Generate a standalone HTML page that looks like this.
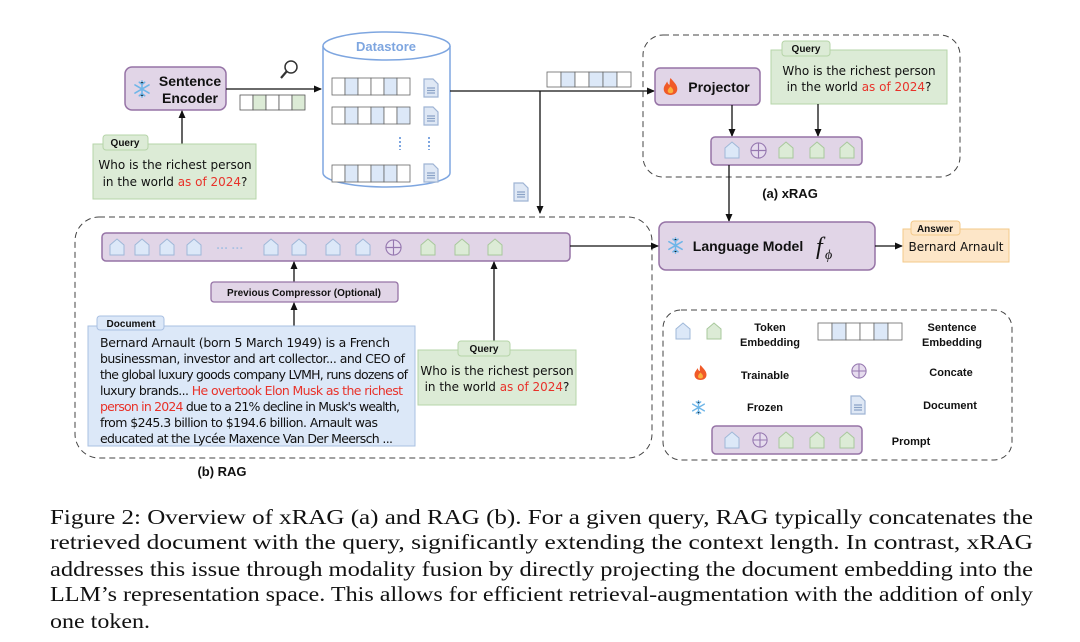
<!DOCTYPE html>
<html><head><meta charset="utf-8"><style>
html,body{margin:0;padding:0;background:#fff;}
svg{display:block;}
.b{font-family:"Liberation Sans",sans-serif;font-weight:bold;fill:#111;}
.c{font-family:"DejaVu Sans","Liberation Sans",sans-serif;fill:#111;}
.r{fill:#e8322a;}
.cap{font-family:"Liberation Serif",serif;font-size:21.5px;fill:#111;}
</style></head><body>
<svg width="1080" height="642" viewBox="0 0 1080 642" xmlns="http://www.w3.org/2000/svg">
<defs>
<marker id="ar" markerWidth="8" markerHeight="8" refX="7" refY="4" orient="auto" markerUnits="userSpaceOnUse"><path d="M0,0.5 L8,4 L0,7.5 z" fill="#111"/></marker>
<symbol id="hb" viewBox="0 0 16 18"><path d="M1,7 L8,1 L15,7 L15,17 L1,17 z" fill="#dce8f8" stroke="#9fb8d8" stroke-width="1"/></symbol>
<symbol id="hg" viewBox="0 0 16 18"><path d="M1,7 L8,1 L15,7 L15,17 L1,17 z" fill="#dcebd6" stroke="#a8c89c" stroke-width="1"/></symbol>
<symbol id="cc" viewBox="0 0 18 18"><circle cx="9" cy="9" r="8" fill="#e6dcee" stroke="#9678b0" stroke-width="1.2"/><path d="M9,1 V17 M1,9 H17" stroke="#9678b0" stroke-width="1.2"/></symbol>
<symbol id="doc" viewBox="0 0 16 20"><path d="M1,1 H10 L15,6 V19 H1 z" fill="#dfe8f5" stroke="#9fb4d4" stroke-width="1.2"/><path d="M4,10 H12 M4,12.5 H12 M4,15 H12" stroke="#8aa2c6" stroke-width="1.2"/></symbol>
<symbol id="sf" viewBox="0 0 20 20"><g stroke="#6fb6e8" stroke-width="1.8" stroke-linecap="round"><path d="M10,1 V19 M2.2,5.5 L17.8,14.5 M2.2,14.5 L17.8,5.5"/><path d="M7,2.5 L10,5 L13,2.5 M7,17.5 L10,15 L13,17.5"/></g></symbol>
<symbol id="fire" viewBox="0 0 20 22"><path d="M10,1 C14,6 18,9 18,14 C18,18.5 14.5,21 10,21 C5.5,21 2,18.5 2,14 C2,10 5,8 6,5 C7,8 8,9 9,9 C9,6 9,3 10,1z" fill="#f05a28"/><path d="M10,11 C12,13 14,15 13,17.5 C12,19.5 8,19.5 7,17.5 C6,15.5 8,13 10,11z" fill="#fbb03b"/></symbol>
</defs>

<rect x="125" y="67" width="101" height="43" rx="7" fill="#e1d5e7" stroke="#9673a6" stroke-width="1.5"/>
<use href="#sf" x="133" y="80" width="18" height="18"/>
<text class="b" x="190" y="86" font-size="14" text-anchor="middle">Sentence</text>
<text class="b" x="190" y="103" font-size="14" text-anchor="middle">Encoder</text>
<line x1="182" y1="144" x2="182" y2="111" stroke="#111" stroke-width="1.3" marker-end="url(#ar)"/>
<rect x="93" y="144" width="163" height="55" fill="#dcebd6" stroke="#b6d4a8"/>
<rect x="103" y="135" width="45" height="15" rx="3" fill="#dcebd6" stroke="#b6d4a8"/>
<text class="b" x="125" y="146" font-size="10" text-anchor="middle">Query</text>
<text class="c" x="175" y="169" font-size="12" text-anchor="middle">Who is the richest person</text>
<text class="c" x="175" y="186" font-size="12" text-anchor="middle">in the world <tspan class="r">as of 2024</tspan>?</text>

<line x1="226" y1="89" x2="321" y2="89" stroke="#111" stroke-width="1.3" marker-end="url(#ar)"/>
<circle cx="291" cy="67" r="6" fill="#fff" stroke="#333" stroke-width="1.5"/><line x1="287" y1="71" x2="281" y2="78" stroke="#333" stroke-width="2.2"/>
<g stroke="#555" stroke-width="0.8">
<rect x="240" y="95" width="13" height="15" fill="#fff"/><rect x="253" y="95" width="13" height="15" fill="#dcebd6"/><rect x="266" y="95" width="13" height="15" fill="#fff"/><rect x="279" y="95" width="13" height="15" fill="#fff"/><rect x="292" y="95" width="13" height="15" fill="#dcebd6"/>
</g>

<path d="M323,46 V173 A63.5,14 0 0 0 450,173 V46" fill="#fff" stroke="#7ea6e0" stroke-width="1.5"/>
<ellipse cx="386.5" cy="46" rx="63.5" ry="14" fill="#fff" stroke="#7ea6e0" stroke-width="1.5"/>
<text class="b" x="386" y="51" font-size="13" text-anchor="middle" style="fill:#7ea6e0">Datastore</text>
<g stroke="#666" stroke-width="0.8">
<g transform="translate(332,78)"><rect width="13" height="17" fill="#fff"/><rect x="13" width="13" height="17" fill="#dce8f8"/><rect x="26" width="13" height="17" fill="#fff"/><rect x="39" width="13" height="17" fill="#fff"/><rect x="52" width="13" height="17" fill="#dce8f8"/><rect x="65" width="13" height="17" fill="#fff"/></g>
<g transform="translate(332,107)"><rect width="13" height="17" fill="#fff"/><rect x="13" width="13" height="17" fill="#dce8f8"/><rect x="26" width="13" height="17" fill="#fff"/><rect x="39" width="13" height="17" fill="#dce8f8"/><rect x="52" width="13" height="17" fill="#fff"/><rect x="65" width="13" height="17" fill="#dce8f8"/></g>
<g transform="translate(332,165)"><rect width="13" height="17" fill="#fff"/><rect x="13" width="13" height="17" fill="#dce8f8"/><rect x="26" width="13" height="17" fill="#fff"/><rect x="39" width="13" height="17" fill="#dce8f8"/><rect x="52" width="13" height="17" fill="#dce8f8"/><rect x="65" width="13" height="17" fill="#fff"/></g>
</g>
<use href="#doc" x="423" y="78" width="16" height="20"/>
<use href="#doc" x="423" y="106" width="16" height="20"/>
<use href="#doc" x="423" y="163" width="16" height="20"/>
<line x1="400" y1="137" x2="400" y2="150" stroke="#7ea6e0" stroke-width="2" stroke-dasharray="2,2"/>
<line x1="429" y1="137" x2="429" y2="150" stroke="#7ea6e0" stroke-width="2" stroke-dasharray="2,2"/>

<line x1="450" y1="91" x2="654" y2="91" stroke="#111" stroke-width="1.3" marker-end="url(#ar)"/>
<line x1="540" y1="91" x2="540" y2="213" stroke="#111" stroke-width="1.3" marker-end="url(#ar)"/>
<use href="#doc" x="513" y="182" width="16" height="20"/>
<g stroke="#666" stroke-width="0.8" transform="translate(547,72)"><rect width="14" height="15" fill="#fff"/><rect x="14" width="14" height="15" fill="#dce8f8"/><rect x="28" width="14" height="15" fill="#fff"/><rect x="42" width="14" height="15" fill="#dce8f8"/><rect x="56" width="14" height="15" fill="#dce8f8"/><rect x="70" width="14" height="15" fill="#fff"/></g>

<rect x="643" y="35" width="317" height="142" rx="20" fill="none" stroke="#444" stroke-width="1" stroke-dasharray="6,4"/>
<rect x="655" y="68" width="105" height="37" rx="5" fill="#e1d5e7" stroke="#9673a6" stroke-width="1.5"/>
<use href="#fire" x="662" y="77" width="17" height="19"/>
<text class="b" x="719" y="92" font-size="14" text-anchor="middle">Projector</text>
<rect x="771" y="50" width="176" height="54" fill="#dcebd6" stroke="#b6d4a8"/>
<rect x="782" y="41" width="48" height="15" rx="3" fill="#dcebd6" stroke="#b6d4a8"/>
<text class="b" x="806" y="52" font-size="10" text-anchor="middle">Query</text>
<text class="c" x="859" y="75" font-size="12" text-anchor="middle">Who is the richest person</text>
<text class="c" x="859" y="91" font-size="12" text-anchor="middle">in the world <tspan class="r">as of 2024</tspan>?</text>
<line x1="732" y1="105" x2="732" y2="136" stroke="#111" stroke-width="1.3" marker-end="url(#ar)"/>
<line x1="818" y1="104" x2="818" y2="136" stroke="#111" stroke-width="1.3" marker-end="url(#ar)"/>
<rect x="711" y="137" width="151" height="28" rx="4" fill="#e1d5e7" stroke="#9673a6" stroke-width="1.5"/>
<use href="#hb" x="724" y="141" width="16" height="18"/><use href="#cc" x="750" y="142" width="17" height="17"/><use href="#hg" x="778" y="141" width="16" height="18"/><use href="#hg" x="809" y="141" width="16" height="18"/><use href="#hg" x="839" y="141" width="16" height="18"/>
<line x1="729" y1="165" x2="729" y2="221" stroke="#111" stroke-width="1.3" marker-end="url(#ar)"/>
<text class="b" x="790" y="198" font-size="13" text-anchor="middle">(a) xRAG</text>

<rect x="659" y="222" width="216" height="48" rx="7" fill="#e1d5e7" stroke="#9673a6" stroke-width="1.5"/>
<use href="#sf" x="667" y="237" width="17" height="17"/>
<text class="b" x="748" y="251" font-size="14" text-anchor="middle">Language Model</text>
<text x="816" y="254" font-family="Liberation Serif,serif" font-style="italic" font-size="24" fill="#111">f</text>
<text x="825" y="259" font-family="Liberation Serif,serif" font-style="italic" font-size="14" fill="#111">ϕ</text>
<line x1="875" y1="246" x2="902" y2="246" stroke="#111" stroke-width="1.3" marker-end="url(#ar)"/>
<rect x="903" y="229" width="106" height="33" fill="#fde6c8" stroke="#f3c98a"/>
<rect x="911" y="221" width="49" height="14" rx="3" fill="#fde6c8" stroke="#f3c98a"/>
<text class="b" x="935" y="232" font-size="10" text-anchor="middle">Answer</text>
<text class="c" x="956" y="251" font-size="12" text-anchor="middle">Bernard Arnault</text>

<rect x="75" y="217" width="577" height="241" rx="24" fill="none" stroke="#444" stroke-width="1" stroke-dasharray="6,4"/>
<rect x="102" y="233" width="468" height="28" rx="4" fill="#e1d5e7" stroke="#9673a6" stroke-width="1.5"/>
<use href="#hb" x="109" y="238" width="16" height="18"/><use href="#hb" x="134" y="238" width="16" height="18"/><use href="#hb" x="159" y="238" width="16" height="18"/><use href="#hb" x="186" y="238" width="16" height="18"/>
<text x="230" y="252" font-size="12" font-family="Liberation Sans,sans-serif" font-weight="bold" fill="#a9c0e2" text-anchor="middle">··· ···</text>
<use href="#hb" x="263" y="238" width="16" height="18"/><use href="#hb" x="291" y="238" width="16" height="18"/><use href="#hb" x="325" y="238" width="16" height="18"/><use href="#hb" x="355" y="238" width="16" height="18"/>
<use href="#cc" x="385" y="239" width="17" height="17"/>
<use href="#hg" x="420" y="238" width="16" height="18"/><use href="#hg" x="454" y="238" width="16" height="18"/><use href="#hg" x="487" y="238" width="16" height="18"/>
<line x1="570" y1="246" x2="658" y2="246" stroke="#111" stroke-width="1.3" marker-end="url(#ar)"/>
<line x1="294" y1="282" x2="294" y2="262" stroke="#111" stroke-width="1.3" marker-end="url(#ar)"/>
<rect x="211" y="282" width="187" height="20" rx="3" fill="#e1d5e7" stroke="#9673a6" stroke-width="1.3"/>
<text class="b" x="304" y="296" font-size="10" text-anchor="middle">Previous Compressor (Optional)</text>
<line x1="294" y1="326" x2="294" y2="303" stroke="#111" stroke-width="1.3" marker-end="url(#ar)"/>
<rect x="88" y="326" width="327" height="120" fill="#dce8f8" stroke="#a9c0e2"/>
<rect x="97" y="316" width="67" height="14" rx="3" fill="#dce8f8" stroke="#a9c0e2"/>
<text class="b" x="131" y="327" font-size="10" text-anchor="middle">Document</text>
<g class="c" font-size="12.5">
<text x="100" y="347" textLength="290">Bernard Arnault (born 5 March 1949) is a French</text>
<text x="100" y="363" textLength="305">businessman, investor and art collector... and CEO of</text>
<text x="100" y="379" textLength="308">the global luxury goods company LVMH, runs dozens of</text>
<text x="100" y="395" textLength="303">luxury brands... <tspan class="r">He overtook Elon Musk as the richest</tspan></text>
<text x="100" y="411" textLength="300"><tspan class="r">person in 2024</tspan> due to a 21% decline in Musk's wealth,</text>
<text x="100" y="427" textLength="278">from $245.3 billion to $194.6 billion. Arnault was</text>
<text x="100" y="443" textLength="293">educated at the Lycée Maxence Van Der Meersch ...</text>
</g>
<line x1="494" y1="350" x2="494" y2="262" stroke="#111" stroke-width="1.3" marker-end="url(#ar)"/>
<rect x="418" y="350" width="158" height="55" fill="#dcebd6" stroke="#b6d4a8"/>
<rect x="458" y="341" width="52" height="15" rx="3" fill="#dcebd6" stroke="#b6d4a8"/>
<text class="b" x="484" y="352" font-size="10" text-anchor="middle">Query</text>
<text class="c" x="497" y="375" font-size="12" text-anchor="middle">Who is the richest person</text>
<text class="c" x="497" y="391" font-size="12" text-anchor="middle">in the world <tspan class="r">as of 2024</tspan>?</text>
<text class="b" x="222" y="476" font-size="13" text-anchor="middle">(b) RAG</text>

<rect x="663" y="310" width="349" height="150" rx="18" fill="none" stroke="#444" stroke-width="1" stroke-dasharray="6,4"/>
<use href="#hb" x="675" y="322" width="16" height="18"/><use href="#hg" x="706" y="322" width="16" height="18"/>
<text class="b" x="770" y="331" font-size="11" text-anchor="middle">Token</text>
<text class="b" x="770" y="346" font-size="11" text-anchor="middle">Embedding</text>
<g stroke="#666" stroke-width="0.8" transform="translate(818,323)"><rect width="14" height="17" fill="#fff"/><rect x="14" width="14" height="17" fill="#dce8f8"/><rect x="28" width="14" height="17" fill="#fff"/><rect x="42" width="14" height="17" fill="#fff"/><rect x="56" width="14" height="17" fill="#dce8f8"/><rect x="70" width="14" height="17" fill="#fff"/></g>
<text class="b" x="952" y="331" font-size="11" text-anchor="middle">Sentence</text>
<text class="b" x="952" y="346" font-size="11" text-anchor="middle">Embedding</text>
<use href="#fire" x="693" y="364" width="15" height="17"/>
<text class="b" x="765" y="379" font-size="11" text-anchor="middle">Trainable</text>
<use href="#cc" x="851" y="363" width="16" height="16"/>
<text class="b" x="951" y="376" font-size="11" text-anchor="middle">Concate</text>
<use href="#sf" x="691" y="400" width="15" height="15"/>
<text class="b" x="765" y="411" font-size="11" text-anchor="middle">Frozen</text>
<use href="#doc" x="850" y="394" width="16" height="22"/>
<text class="b" x="950" y="409" font-size="11" text-anchor="middle">Document</text>
<rect x="712" y="426" width="150" height="28" rx="4" fill="#e1d5e7" stroke="#9673a6" stroke-width="1.5"/>
<use href="#hb" x="724" y="431" width="16" height="18"/><use href="#cc" x="752" y="432" width="16" height="16"/><use href="#hg" x="778" y="431" width="16" height="18"/><use href="#hg" x="809" y="431" width="16" height="18"/><use href="#hg" x="839" y="431" width="16" height="18"/>
<text class="b" x="911" y="445" font-size="11" text-anchor="middle">Prompt</text>

<text class="cap" x="50" y="524" textLength="983" lengthAdjust="spacingAndGlyphs">Figure 2: Overview of xRAG (a) and RAG (b). For a given query, RAG typically concatenates the</text>
<text class="cap" x="50" y="549" textLength="983" lengthAdjust="spacingAndGlyphs">retrieved document with the query, significantly extending the context length. In contrast, xRAG</text>
<text class="cap" x="50" y="576" textLength="983" lengthAdjust="spacingAndGlyphs">addresses this issue through modality fusion by directly projecting the document embedding into the</text>
<text class="cap" x="50" y="601" textLength="983" lengthAdjust="spacingAndGlyphs">LLM’s representation space. This allows for efficient retrieval-augmentation with the addition of only</text>
<text class="cap" x="50" y="628" textLength="100" lengthAdjust="spacingAndGlyphs">one token.</text>
</svg>
</body></html>
